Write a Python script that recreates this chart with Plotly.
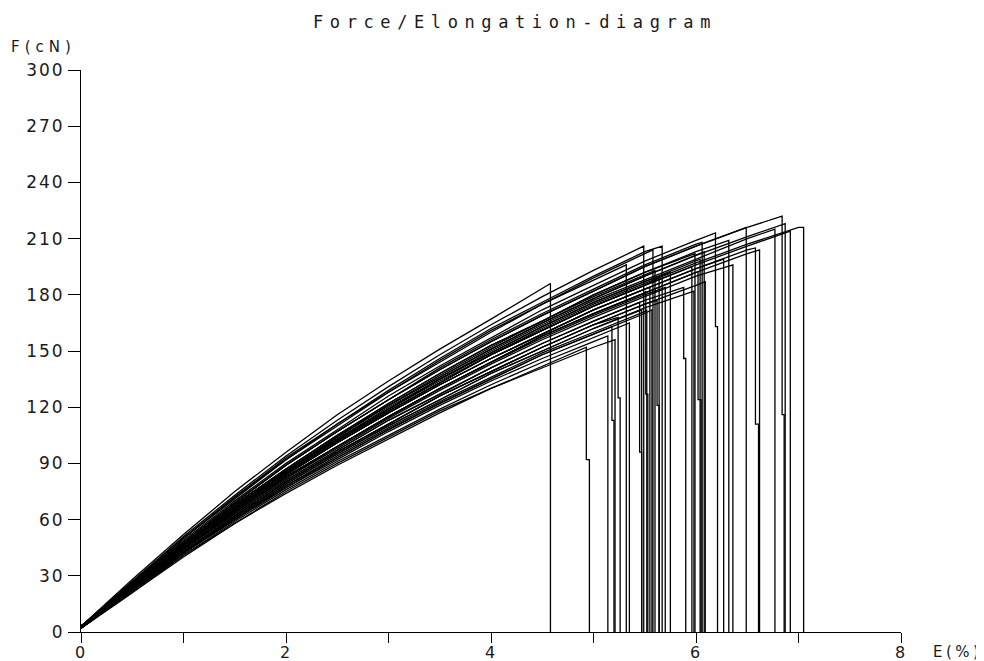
# -*- coding: utf-8 -*-

import plotly.graph_objects as go

# elongation grid (%) where the forces of every test were read
E_GRID = [0, 0.5, 1, 1.5, 2, 2.5, 3, 3.5, 4, 4.5, 5, 5.5, 6, 6.5, 7]

# force (cN) of each test on E_GRID, up to the break
FORCES = [
    [3, 28, 52, 75, 96, 116, 134, 151, 167, 183],
    [2, 21, 41, 58, 75, 90, 104, 118, 130, 142],
    [2, 22, 41, 59, 76, 91, 105, 119, 132, 144, 155],
    [3, 22, 42, 60, 77, 93, 108, 122, 135, 148, 159],
    [2, 21, 40, 58, 74, 89, 103, 117, 130, 141, 152],
    [3, 23, 43, 62, 80, 96, 111, 126, 139, 152, 164],
    [3, 26, 50, 71, 92, 110, 128, 144, 160, 175, 188],
    [3, 23, 44, 63, 81, 97, 113, 127, 141, 154, 166],
    [3, 27, 51, 73, 94, 113, 131, 148, 164, 179, 193],
    [2, 22, 42, 61, 78, 94, 109, 123, 136, 149, 160, 171],
    [3, 24, 45, 65, 84, 101, 117, 132, 146, 159, 172, 183],
    [3, 26, 50, 72, 92, 111, 128, 145, 161, 175, 189, 202],
    [3, 23, 43, 62, 80, 96, 111, 126, 139, 152, 164, 175],
    [3, 27, 50, 72, 93, 111, 129, 146, 162, 176, 190, 203],
    [3, 24, 45, 64, 82, 99, 115, 130, 144, 157, 169, 180],
    [3, 25, 46, 66, 86, 103, 119, 135, 149, 163, 176, 187],
    [3, 23, 44, 63, 81, 97, 113, 127, 141, 154, 166, 177],
    [3, 24, 46, 66, 85, 102, 118, 133, 148, 161, 174, 185],
    [3, 25, 47, 68, 87, 105, 122, 138, 153, 166, 180, 192],
    [3, 24, 45, 64, 83, 99, 115, 130, 144, 158, 170, 181, 192],
    [3, 26, 48, 69, 89, 107, 124, 141, 156, 170, 183, 196, 207],
    [3, 23, 43, 62, 80, 96, 111, 126, 139, 152, 164, 175, 185],
    [3, 26, 49, 70, 90, 108, 126, 142, 157, 172, 185, 198, 209],
    [3, 24, 45, 65, 84, 101, 117, 132, 146, 159, 172, 183, 194],
    [3, 25, 47, 68, 87, 105, 122, 138, 153, 166, 180, 192, 203],
    [3, 23, 44, 64, 82, 98, 114, 129, 143, 156, 168, 179, 190],
    [3, 26, 48, 69, 89, 107, 124, 140, 155, 169, 182, 195, 206],
    [3, 24, 45, 65, 84, 101, 117, 132, 146, 159, 172, 183, 194, 204],
    [3, 24, 45, 64, 83, 99, 115, 130, 144, 158, 170, 181, 192, 202],
    [3, 25, 47, 67, 86, 103, 120, 135, 150, 164, 177, 188, 199, 210],
    [3, 26, 48, 69, 89, 107, 124, 140, 155, 169, 182, 195, 206, 216],
    [3, 25, 47, 67, 86, 104, 121, 136, 151, 165, 178, 190, 201, 211],
    [3, 24, 46, 66, 85, 102, 118, 133, 148, 161, 174, 185, 196, 206],
    [3, 24, 46, 66, 85, 102, 119, 134, 148, 162, 175, 186, 197, 207, 216],
    [3, 23, 43, 61, 79, 95, 110, 124, 138, 150, 162],
    [3, 25, 47, 68, 87, 105, 121, 137, 152, 166, 179, 191],
    [3, 25, 46, 66, 86, 103, 119, 135, 149, 163, 176, 187, 198],
    [2, 22, 42, 60, 77, 92, 107, 121, 134, 146, 157],
    [3, 24, 45, 64, 83, 99, 115, 130, 144, 158, 170, 181],
    [2, 22, 42, 60, 78, 93, 108, 122, 135, 148, 159, 170],
    [3, 24, 46, 66, 85, 102, 118, 133, 148, 161, 174, 185],
    [3, 23, 43, 61, 79, 95, 110, 124, 138, 150, 162, 173],
    [3, 25, 47, 67, 86, 104, 121, 136, 151, 165, 178, 190, 201],
]

# break point of each test
BREAK_E = [4.58, 4.93, 5.14, 5.18, 5.21, 5.24, 5.32, 5.45, 5.49, 5.52,
           5.55, 5.58, 5.62, 5.67, 5.70, 5.75, 5.88, 5.96, 5.99, 6.02,
           6.06, 6.09, 6.19, 6.27, 6.32, 6.36, 6.49, 6.58, 6.62, 6.77,
           6.84, 6.87, 6.92, 7.05, 5.47, 5.60, 6.04, 5.35, 5.51, 5.57,
           5.64, 5.98, 6.08]
BREAK_F = [186, 152, 158, 163, 156, 168, 196, 176, 206, 172,
           184, 204, 177, 206, 184, 192, 184, 195, 202, 192,
           208, 187, 213, 199, 209, 196, 216, 205, 204, 215,
           222, 218, 214, 216, 172, 193, 199, 165, 182, 172,
           189, 182, 203]

# tests whose force fell in two steps after the break
STEP_IDX = [1, 3, 5, 7, 12, 16, 19, 22, 27, 30, 38]
STEP_F = [92, 113, 125, 96, 121, 146, 124, 163, 111, 116, 127]
STEP_E = [4.96, 5.20, 5.26, 5.47, 5.64, 5.90, 6.05, 6.21, 6.61, 6.86, 5.53]

X_TICKS = [0, 1, 2, 3, 4, 5, 6, 7, 8]
X_LABELS = ['0', '', '2', '', '4', '', '6', '', '8']
Y_TICKS = [0, 30, 60, 90, 120, 150, 180, 210, 240, 270, 300]

TEXT = '#1a1a1a'

# the page body keeps its 8px margin, so the figure is drawn 8px in
W, H = 976, 653


def spaced(txt, px):
    return '<span style="letter-spacing:%spx">%s</span>' % (px, txt)


fig = go.Figure()
for i in range(len(FORCES)):
    f = FORCES[i]
    x = E_GRID[:len(f)] + [BREAK_E[i]]
    y = f + [BREAK_F[i]]
    if i in STEP_IDX:
        j = STEP_IDX.index(i)
        x = x + [BREAK_E[i], STEP_E[j], STEP_E[j]]
        y = y + [STEP_F[j], STEP_F[j], 0]
    else:
        x = x + [BREAK_E[i]]
        y = y + [0]
    fig.add_trace(go.Scatter(x=x, y=y, mode='lines',
                             line=dict(color='black', width=1.3),
                             showlegend=False, hoverinfo='skip'))

fig.update_layout(
    width=W, height=H,
    margin=dict(l=73, r=83, t=62, b=29, autoexpand=False),
    paper_bgcolor='white', plot_bgcolor='white',
    title=dict(text=spaced('Force/Elongation-diagram', 6.6),
               x=(515 - 8) / W, xanchor='center', xref='container',
               y=1 - (22 - 8) / H, yanchor='middle', yref='container',
               font=dict(family='DejaVu Sans Mono', size=17, color=TEXT)),
    xaxis=dict(range=[0, 8], tickvals=X_TICKS,
               ticktext=[spaced(t, 2) for t in X_LABELS],
               ticks='outside', ticklen=10, tickcolor='black', tickwidth=1,
               ticklabelstandoff=-4,
               showline=True, linecolor='black', linewidth=1, automargin=False,
               showgrid=False, zeroline=False,
               tickfont=dict(family='DejaVu Sans', size=16, color=TEXT)),
    yaxis=dict(range=[0, 300], tickvals=Y_TICKS,
               ticktext=[spaced(str(t), 2) for t in Y_TICKS],
               ticks='outside', ticklen=12, tickcolor='black', tickwidth=1,
               showline=True, linecolor='black', linewidth=1, automargin=False,
               showgrid=False, zeroline=False,
               tickfont=dict(family='DejaVu Sans', size=17, color=TEXT)),
    annotations=[
        dict(text=spaced('F(cN)', 5), xref='paper', yref='paper',
             x=(9 - 81) / 820, y=(632 - 47) / 562, xanchor='left', yanchor='middle',
             showarrow=False, font=dict(family='DejaVu Sans', size=15, color=TEXT)),
        dict(text=spaced('E(%)', 3.5), xref='paper', yref='paper',
             x=(931 - 81) / 820, y=(632 - 652) / 562, xanchor='left', yanchor='middle',
             showarrow=False, font=dict(family='DejaVu Sans', size=15, color=TEXT)),
    ],
)

fig.write_html("out.html")
